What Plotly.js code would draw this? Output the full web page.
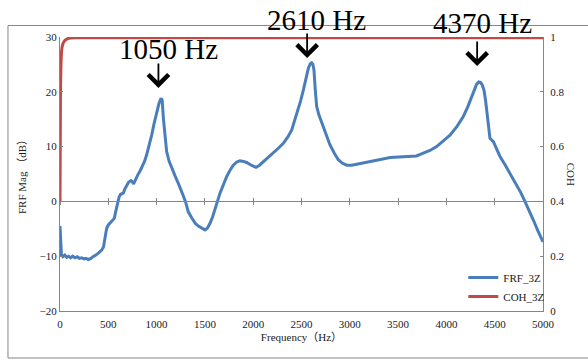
<!DOCTYPE html>
<html>
<head>
<meta charset="utf-8">
<script src="https://cdn.plot.ly/plotly-3.0.1.min.js"></script>
<style>html,body{margin:0;padding:0;background:#fff;}#chart{width:588px;height:361px;}</style>
</head>
<body>
<div id="chart"></div>
<script>
// ---- data ----
var frfFreq = [0,8,15,30,50,70,90,110,130,155,180,200,224,250,270,293,320,340,362,400,431,450,459,470,483,500,520,535,550,562,580,597,612,628,655,672,690,710,735,748,762,780,804,830,852,875,897,920,949,975,1001,1025,1046,1058,1070,1085,1104,1130,1156,1190,1225,1250,1277,1300,1328,1363,1400,1432,1470,1501,1525,1553,1580,1605,1630,1656,1690,1725,1760,1794,1830,1863,1900,1932,1980,2029,2065,2105,2150,2208,2260,2312,2360,2398,2450,2490,2519,2550,2571,2590,2605,2618,2629,2642,2657,2680,2709,2750,2795,2840,2881,2920,2968,3020,3071,3150,3243,3330,3416,3490,3554,3623,3690,3761,3830,3899,3970,4037,4110,4175,4220,4262,4290,4313,4335,4355,4372,4389,4405,4423,4440,4451,4486,4520,4555,4610,4658,4690,4727,4770,4813,4860,4900,4945,4986,5000];
var frfMag = [-4.5,-9.0,-9.8,-10.1,-9.8,-10.2,-10.0,-10.3,-10.0,-10.3,-10.1,-10.4,-10.3,-10.5,-10.4,-10.6,-10.4,-10.1,-9.9,-9.4,-8.9,-8.3,-7.4,-6.2,-4.9,-4.3,-3.9,-3.7,-3.4,-3.1,-1.6,-0.1,0.8,1.3,1.5,2.3,3.0,3.5,3.8,3.6,3.2,4.0,4.8,5.6,6.3,7.3,8.5,10.0,12.1,14.3,16.4,17.9,18.8,18.5,15.2,11.8,9.1,7.3,6.0,4.7,3.3,2.3,1.0,-0.1,-1.9,-3.0,-4.0,-4.5,-4.9,-5.2,-4.9,-4.0,-2.8,-1.6,0.0,1.5,3.1,4.5,5.7,6.6,7.2,7.4,7.3,7.1,6.6,6.2,6.6,7.2,7.9,8.8,9.7,10.6,11.8,13.0,15.8,18.3,20.3,23.0,24.3,25.1,25.3,25.0,24.0,20.5,17.3,15.8,14.5,12.3,10.3,8.8,7.6,7.0,6.6,6.6,6.8,7.0,7.4,7.7,8.0,8.1,8.2,8.2,8.3,8.8,9.3,10.0,11.0,12.1,13.7,15.5,17.2,19.1,20.6,21.4,21.8,21.7,21.2,20.3,18.5,15.5,12.5,11.5,10.9,9.5,8.2,6.6,5.1,4.1,3.0,1.6,0.0,-1.7,-3.4,-5.3,-7.0,-7.4];
var cohFreq = [0,5,10,15,20,30,45,60,90,150,300,1000,2000,3000,4000,5000];
var cohVal  = [0.40,0.80,0.90,0.94,0.96,0.975,0.985,0.99,0.995,0.997,0.997,0.997,0.997,0.997,0.997,0.997];
var peakFreqs = [1050, 2610, 4370];
var peakLabels = ["1050 Hz", "2610 Hz", "4370 Hz"];
var xTicks = [0,500,1000,1500,2000,2500,3000,3500,4000,4500,5000];
var seriesNames = ["FRF_3Z", "COH_3Z"];

// ---- styles ----
var FONT = "Liberation Serif, Times New Roman, Noto Sans CJK SC, serif";
var GRAY = "#868686";
var TXT = "#1a1a1a";

var traces = [
  {x: frfFreq, y: frfMag, name: seriesNames[0], type: "scatter", mode: "lines",
   line: {color: "#4a7ebb", width: 3}, xaxis: "x", yaxis: "y"},
  {x: cohFreq, y: cohVal, name: seriesNames[1], type: "scatter", mode: "lines",
   line: {color: "#be4b48", width: 3, shape: "spline", smoothing: 0.6}, xaxis: "x", yaxis: "y2"},
  {x: [], y: [], xaxis: "x2", yaxis: "y", showlegend: false, hoverinfo: "skip"},
  {x: [], y: [], xaxis: "x3", yaxis: "y", showlegend: false, hoverinfo: "skip"}
];

var textPos = [{y: 0.955, xs: 7}, {y: 1.063, xs: 4}, {y: 1.05, xs: 0}];
var arrowPos = [{y: 0.814, xs: -3}, {y: 0.923, xs: -5}, {y: 0.894, xs: -5}];
var annotations = [];
peakFreqs.forEach(function (f, i) {
  annotations.push({x: f, xref: "x", y: textPos[i].y, yref: "paper", xshift: textPos[i].xs,
    text: peakLabels[i], showarrow: false, xanchor: "center", yanchor: "middle",
    font: {family: FONT, size: 29, color: "#000"}});
  annotations.push({x: f, xref: "x", y: arrowPos[i].y, yref: "paper", xshift: arrowPos[i].xs,
    text: "", showarrow: true, ax: 0, ay: -26, arrowhead: 4, arrowsize: 2.2, arrowwidth: 1.8,
    arrowcolor: "#000"});
});
annotations.push({x: 1.075, xref: "paper", y: 0.5, yref: "paper", text: "COH", textangle: 90,
  showarrow: false, font: {family: FONT, size: 11, color: TXT}});

var axisBase = {showgrid: false, zeroline: false, showline: true, linecolor: GRAY, linewidth: 1};

var layout = {
  width: 588, height: 361,
  margin: {l: 60, r: 45, t: 37, b: 50, pad: 0},
  paper_bgcolor: "#fff", plot_bgcolor: "#fff",
  font: {family: FONT, size: 11, color: TXT},
  showlegend: true,
  legend: {x: 0.835, y: 0.175, xanchor: "left", yanchor: "top", bgcolor: "rgba(0,0,0,0)",
    font: {family: FONT, size: 11, color: TXT}, itemwidth: 30, tracegroupgap: 0},
  xaxis: Object.assign({}, axisBase, {range: [0, 5000], tickvals: xTicks, ticks: "",
    ticklabelstandoff: 3,
    tickfont: {family: FONT, size: 11, color: TXT},
    title: {text: "Frequency（Hz）", font: {family: FONT, size: 11, color: TXT}, standoff: 4}}),
  xaxis2: Object.assign({}, axisBase, {overlaying: "x", anchor: "free", position: 0.4,
    range: [0, 5000], tickvals: xTicks, ticks: "outside", ticklen: 3, tickcolor: GRAY,
    showticklabels: false}),
  xaxis3: Object.assign({}, axisBase, {overlaying: "x", anchor: "free", position: 0.4,
    range: [0, 5000], tickvals: xTicks, ticks: "inside", ticklen: 3, tickcolor: GRAY,
    showticklabels: false}),
  yaxis: Object.assign({}, axisBase, {range: [-20, 30], dtick: 10, ticks: "inside", ticklen: 3,
    tickcolor: GRAY, tickfont: {family: FONT, size: 11, color: TXT},
    title: {text: "FRF Mag （dB）", font: {family: FONT, size: 11, color: TXT}, standoff: 10}}),
  yaxis2: Object.assign({}, axisBase, {overlaying: "y", side: "right", range: [0, 1], dtick: 0.2,
    ticks: "inside", ticklen: 3, tickcolor: GRAY, ticklabelstandoff: 4,
    tickfont: {family: FONT, size: 11, color: TXT}}),
  shapes: [
    {type: "rect", xref: "paper", yref: "paper", x0: -0.1077, x1: 1.11, y0: -0.1715, y1: 1.042,
     line: {color: GRAY, width: 1}, fillcolor: "rgba(0,0,0,0)", layer: "below"}
  ],
  annotations: annotations
};

Plotly.newPlot("chart", traces, layout, {displayModeBar: false, staticPlot: true});
</script>
</body>
</html>
